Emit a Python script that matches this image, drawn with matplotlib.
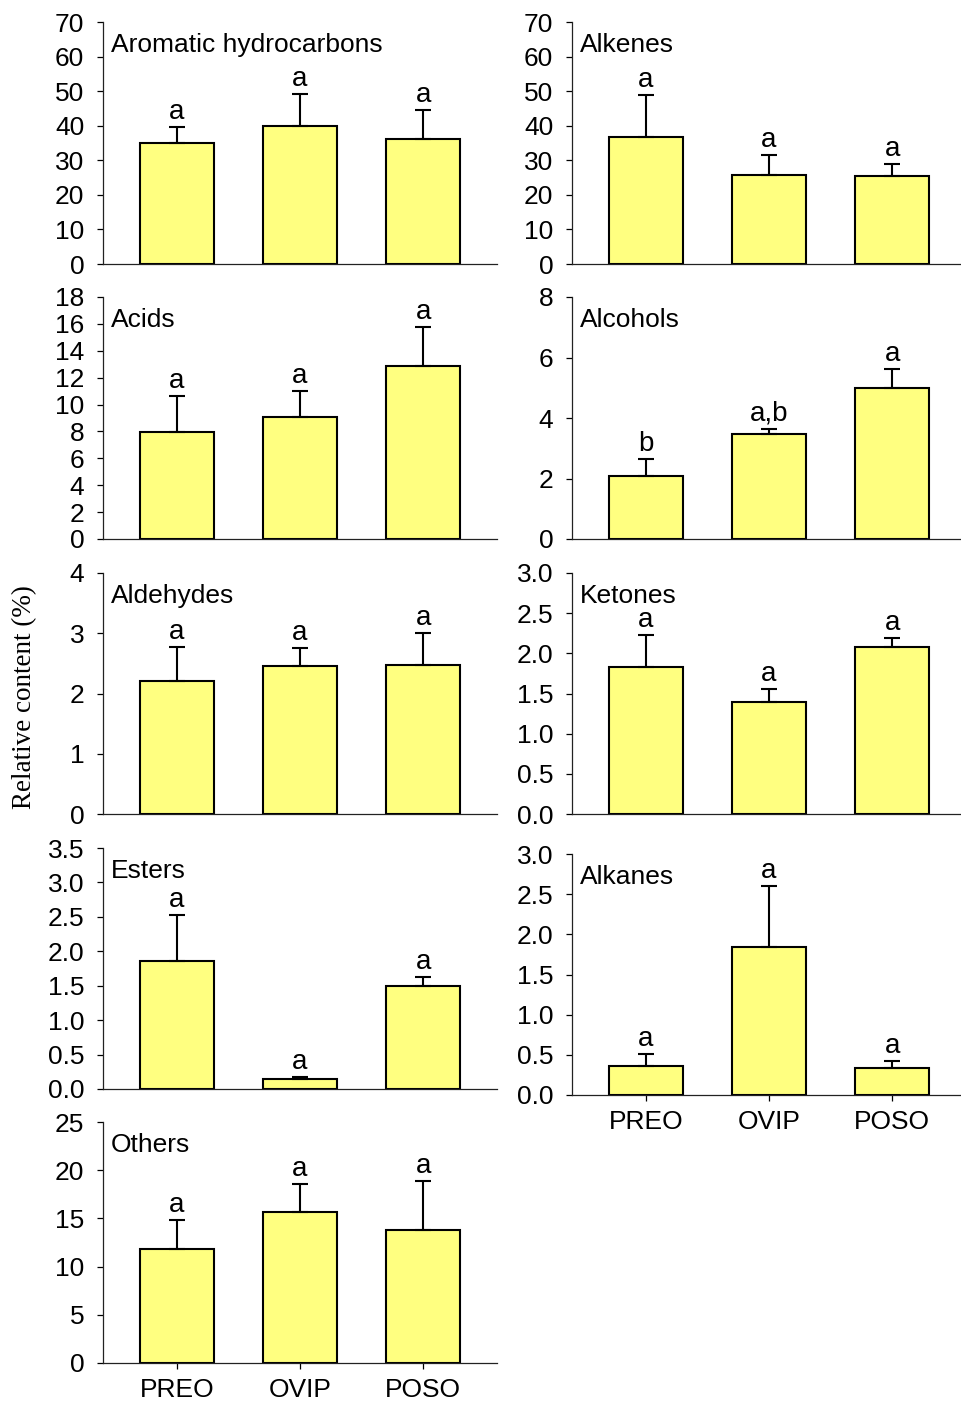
import matplotlib
matplotlib.use("Agg")
import matplotlib.pyplot as plt
import numpy as np

plt.rcParams['font.family'] = ['Liberation Sans', 'DejaVu Sans']

categories = ['PREO', 'OVIP', 'POSO']

aromatic_mean = [35.1, 39.9, 36.2]
aromatic_se = [4.5, 9.2, 8.4]
aromatic_letters = ['a', 'a', 'a']

alkenes_mean = [36.7, 25.8, 25.4]
alkenes_se = [12.2, 5.7, 3.4]
alkenes_letters = ['a', 'a', 'a']

acids_mean = [7.93, 9.05, 12.9]
acids_se = [2.74, 1.95, 2.9]
acids_letters = ['a', 'a', 'a']

alcohols_mean = [2.08, 3.46, 4.99]
alcohols_se = [0.57, 0.18, 0.62]
alcohols_letters = ['b', 'a,b', 'a']

aldehydes_mean = [2.20, 2.45, 2.48]
aldehydes_se = [0.57, 0.31, 0.53]
aldehydes_letters = ['a', 'a', 'a']

ketones_mean = [1.83, 1.40, 2.08]
ketones_se = [0.40, 0.15, 0.11]
ketones_letters = ['a', 'a', 'a']

esters_mean = [1.86, 0.14, 1.50]
esters_se = [0.66, 0.03, 0.12]
esters_letters = ['a', 'a', 'a']

alkanes_mean = [0.36, 1.84, 0.33]
alkanes_se = [0.15, 0.76, 0.09]
alkanes_letters = ['a', 'a', 'a']

others_mean = [11.78, 15.68, 13.81]
others_se = [3.03, 2.86, 5.04]
others_letters = ['a', 'a', 'a']

W, H = 962, 1401
fig = plt.figure(figsize=(W / 100, H / 100), dpi=100)

FS = 19
BAR_COLOR = '#FFFF80'


def make_panel(rect_px, title, means, ses, letters, ymax, ystep, fmt, show_x):
    x0, top, x1, bottom = rect_px
    ax = fig.add_axes([x0 / W, 1 - bottom / H, (x1 - x0) / W, (bottom - top) / H])
    x = np.arange(len(categories))
    ax.bar(x, means, width=0.6, color=BAR_COLOR, edgecolor='black', linewidth=1.5, zorder=2)
    ax.errorbar(x, means, yerr=[np.zeros(len(means)), ses], fmt='none', ecolor='black',
                elinewidth=1.5, capsize=6, capthick=1.5, zorder=3)
    for xi, m, s, lab in zip(x, means, ses, letters):
        ax.annotate(lab, xy=(xi, m + s), xytext=(0, 8), textcoords='offset pixels',
                    ha='center', va='baseline', fontsize=FS + 1)
    ax.set_xlim(-0.6, 2.6)
    ax.set_ylim(0, ymax)
    ticks = np.arange(0, ymax + ystep / 2, ystep)
    ax.set_yticks(ticks)
    ax.set_yticklabels([fmt.format(t) for t in ticks])
    for s in ['top', 'right']:
        ax.spines[s].set_visible(False)
    for s in ['left', 'bottom']:
        ax.spines[s].set_linewidth(0.9)
        ax.spines[s].set_color('#222222')
    ax.tick_params(axis='y', direction='out', length=4, width=0.9, pad=9.5,
                   labelsize=FS, colors='black')
    if show_x:
        ax.set_xticks(x)
        ax.set_xticklabels(categories)
        ax.tick_params(axis='x', direction='out', length=4, width=0.9, pad=7, labelsize=FS)
    else:
        ax.set_xticks([])
    ax.annotate(title, xy=(0, 1), xycoords='axes fraction', xytext=(8, -11),
                textcoords='offset pixels', ha='left', va='top', fontsize=FS)
    ax.patch.set_alpha(0)
    return ax


LX0, LX1 = 103, 497
RX0, RX1 = 572, 966

make_panel((LX0, 22, LX1, 264), 'Aromatic hydrocarbons', aromatic_mean, aromatic_se,
           aromatic_letters, 70, 10, '{:.0f}', False)
make_panel((RX0, 22, RX1, 264), 'Alkenes', alkenes_mean, alkenes_se,
           alkenes_letters, 70, 10, '{:.0f}', False)
make_panel((LX0, 297, LX1, 539), 'Acids', acids_mean, acids_se,
           acids_letters, 18, 2, '{:.0f}', False)
make_panel((RX0, 297, RX1, 539), 'Alcohols', alcohols_mean, alcohols_se,
           alcohols_letters, 8, 2, '{:.0f}', False)
make_panel((LX0, 573, LX1, 814), 'Aldehydes', aldehydes_mean, aldehydes_se,
           aldehydes_letters, 4, 1, '{:.0f}', False)
make_panel((RX0, 573, RX1, 814), 'Ketones', ketones_mean, ketones_se,
           ketones_letters, 3.0, 0.5, '{:.1f}', False)
make_panel((LX0, 848, LX1, 1089), 'Esters', esters_mean, esters_se,
           esters_letters, 3.5, 0.5, '{:.1f}', False)
make_panel((RX0, 854, RX1, 1095), 'Alkanes', alkanes_mean, alkanes_se,
           alkanes_letters, 3.0, 0.5, '{:.1f}', True)
make_panel((LX0, 1122, LX1, 1363), 'Others', others_mean, others_se,
           others_letters, 25, 5, '{:.0f}', True)

fig.text(25 / W, 1 - 697 / H, 'Relative content (%)', rotation=90, ha='center', va='center',
         fontsize=19.5, family=['Liberation Serif', 'DejaVu Serif'])

fig.savefig('out.png', dpi=100, facecolor='white')
